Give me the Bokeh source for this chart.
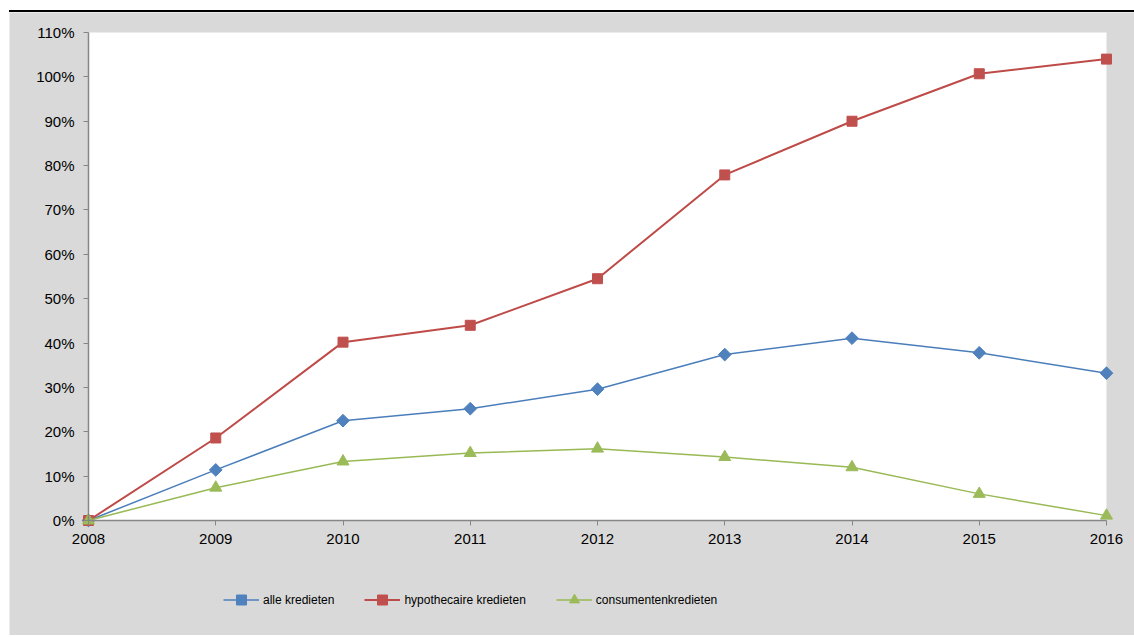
from bokeh.plotting import figure
from bokeh.models import (Range1d, FixedTicker, PrintfTickFormatter, Legend, LegendItem,
                          ColumnDataSource, BoxAnnotation)
from bokeh.embed import file_html
from bokeh.resources import INLINE

years = [2008, 2009, 2010, 2011, 2012, 2013, 2014, 2015, 2016]
alle = [0.0, 11.4, 22.5, 25.2, 29.6, 37.4, 41.1, 37.8, 33.2]
hypotheek = [0.0, 18.6, 40.2, 44.0, 54.5, 77.9, 90.0, 100.7, 104.0]
consument = [0.0, 7.4, 13.3, 15.2, 16.2, 14.3, 12.0, 6.0, 1.1]
y_ticks = [0, 10, 20, 30, 40, 50, 60, 70, 80, 90, 100, 110]
labels = ["alle kredieten", "hypothecaire kredieten", "consumentenkredieten"]

GRAY = "#d9d9d9"
AXIS = "#868686"
FONT = "Liberation Sans"

W, H = 1125, 625
# plot-area placement inside the canvas (pixels)
PX0, PX1, PY_TOP, PY_BOT = 79, 1097, 20, 508
X0, X1, Y0, Y1 = years[0], years[-1], y_ticks[0], y_ticks[-1]
sx = (PX1 - PX0) / (X1 - X0)
sy = (PY_BOT - PY_TOP) / (Y1 - Y0)

p = figure(width=W, height=H, output_backend="svg", toolbar_location=None,
           x_range=Range1d(X0 - PX0 / sx, X1 + (W - PX1) / sx),
           y_range=Range1d(Y0 - (H - PY_BOT) / sy, Y1 + PY_TOP / sy),
           min_border=0)
p.styles = {"margin-left": "9px", "margin-top": "10px", "border-top": "2px solid black"}
p.border_fill_color = GRAY
p.background_fill_color = GRAY
p.outline_line_color = None
p.xgrid.visible = False
p.ygrid.visible = False

p.add_layout(BoxAnnotation(left=X0, right=X1, bottom=Y0, top=Y1, fill_color="white",
                           fill_alpha=1, line_color=None, level="underlay"))

for ax in (p.xaxis[0], p.yaxis[0]):
    ax.axis_line_color = AXIS
    ax.axis_line_width = 1.5
    ax.major_tick_line_color = AXIS
    ax.major_tick_out = 5
    ax.major_tick_in = 0
    ax.minor_tick_line_color = None
    ax.major_label_text_font = FONT
    ax.major_label_text_font_size = "15px"
    ax.major_label_text_color = "black"

p.xaxis.ticker = FixedTicker(ticks=years)
p.xaxis.fixed_location = Y0
p.xaxis.bounds = (X0, X1)
p.xaxis.major_label_standoff = 8
p.yaxis.ticker = FixedTicker(ticks=y_ticks)
p.yaxis.formatter = PrintfTickFormatter(format="%d%%")
p.yaxis.fixed_location = X0
p.yaxis.bounds = (Y0, Y1)
p.yaxis.major_label_standoff = 9

src = ColumnDataSource(dict(x=years, a=alle, h=hypotheek, c=consument))

la = p.line("x", "a", source=src, line_color="#4a7ebb", line_width=1.5)
ma = p.scatter("x", "a", source=src, marker="square", angle=0.785398, size=9,
               fill_color="#4f81bd", line_color="#4f81bd")
lh = p.line("x", "h", source=src, line_color="#be4b48", line_width=2)
mh = p.scatter("x", "h", source=src, marker="square", size=10,
               fill_color="#c0504d", line_color="#c0504d")
lc = p.line("x", "c", source=src, line_color="#98b954", line_width=1.5)
mc = p.scatter("x", "c", source=src, marker="triangle", size=12,
               fill_color="#9bbb59", line_color="#9bbb59")

legend = Legend(items=[LegendItem(label=labels[0], renderers=[la, ma]),
                       LegendItem(label=labels[1], renderers=[lh, mh]),
                       LegendItem(label=labels[2], renderers=[lc, mc])],
                orientation="horizontal", location=(214, 25),
                background_fill_alpha=0, border_line_alpha=0,
                glyph_width=36, glyph_height=25, label_standoff=4, spacing=30,
                padding=0, margin=0, label_text_font=FONT,
                label_text_font_size="12px", label_text_color="black")
p.add_layout(legend)

open("out.html", "w").write(file_html(p, INLINE))
